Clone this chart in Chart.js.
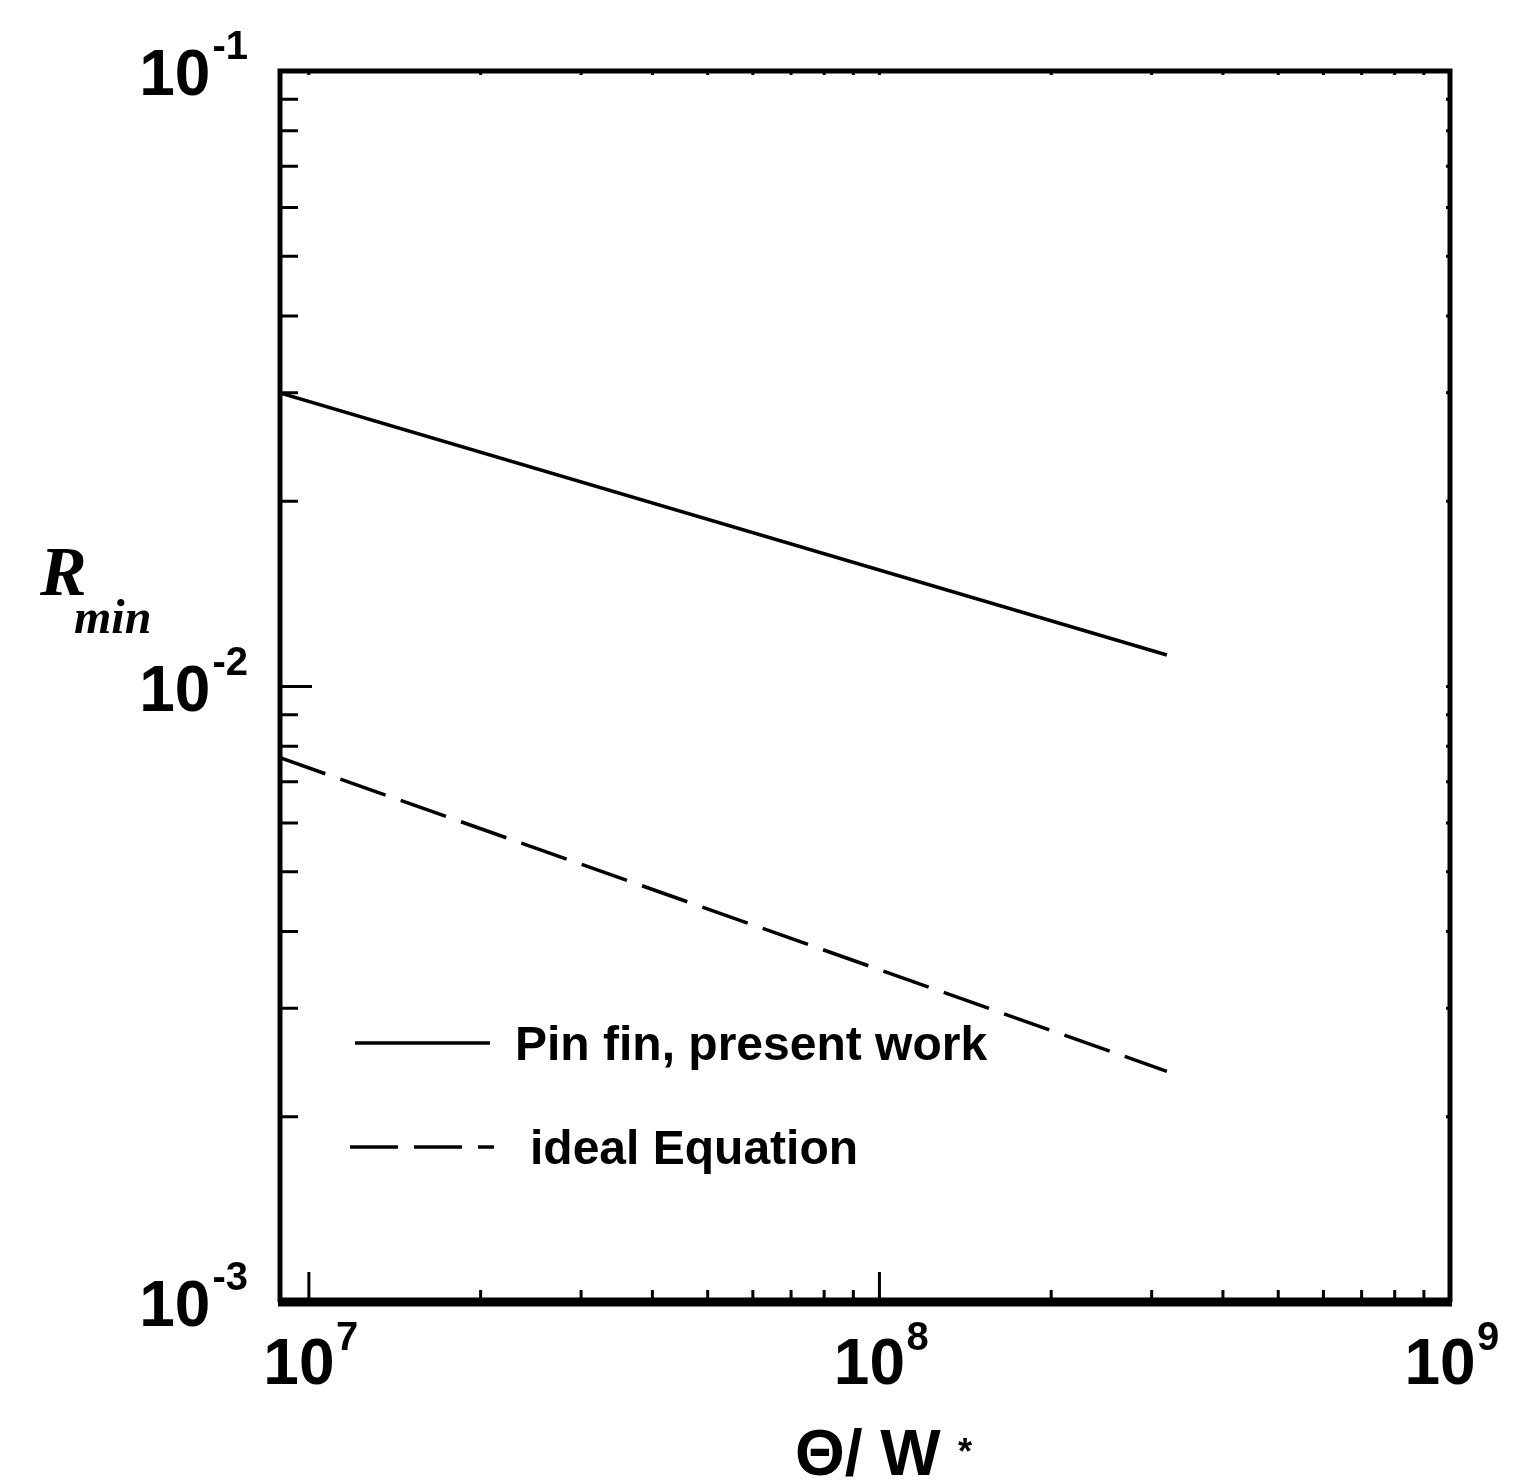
<!DOCTYPE html>
<html>
<head>
<meta charset="utf-8">
<title>R_min vs Theta/W*</title>
<script src="https://cdn.jsdelivr.net/npm/chart.js@4.4.1/dist/chart.umd.min.js"></script>
<style>
  body { margin: 0; background: #fff; }
  #wrap { width: 1513px; height: 1481px; }
</style>
</head>
<body>
<div id="wrap"><canvas id="chart" width="1513" height="1481"></canvas></div>
<script>
// data (log-log)
const pinFinX = [8.9e6, 3.19e8];
const pinFinY = [0.0300, 0.01125];
const idealX = [8.9e6, 3.19e8];
const idealY = [0.00766, 0.00237];

const seriesNames = ["Pin fin, present work", "ideal Equation"];

// axis ticks
const xMajorTicks = [1e7, 1e8, 1e9];
const xTickExps = ["7", "8", "9"];
const xMinorTicks = [2e7, 3e7, 4e7, 5e7, 6e7, 7e7, 8e7, 9e7, 2e8, 3e8, 4e8, 5e8, 6e8, 7e8, 8e8, 9e8];
const yMajorTicks = [1e-3, 1e-2, 1e-1];
const yTickExps = ["-3", "-2", "-1"];
const yMinorTicks = [0.002, 0.003, 0.004, 0.005, 0.006, 0.007, 0.008, 0.009, 0.02, 0.03, 0.04, 0.05, 0.06, 0.07, 0.08, 0.09];

const toPoints = (xs, ys) => xs.map((x, i) => ({ x: x, y: ys[i] }));

const sansBold = (px) => "bold " + px + "px 'Liberation Sans', Arial, sans-serif";
const serifBI = (px) => "italic bold " + px + "px 'Liberation Serif', 'Times New Roman', serif";

// ticks, frame, tick labels, titles and legend
const paperFrame = {
  id: "paperFrame",
  afterDatasetsDraw(chart) {
    const { ctx, chartArea: a, scales } = chart;
    const xs = scales.x, ys = scales.y;
    ctx.save();
    ctx.strokeStyle = "#000";
    ctx.fillStyle = "#000";
    ctx.lineCap = "butt";

    // y ticks (inward from left, small ones on right)
    ctx.lineWidth = 3;
    yMajorTicks.concat(yMinorTicks).forEach((v) => {
      const py = ys.getPixelForValue(v);
      const len = yMajorTicks.includes(v) ? 32 : 18;
      ctx.beginPath();
      ctx.moveTo(a.left, py); ctx.lineTo(a.left + len, py);
      ctx.moveTo(a.right, py); ctx.lineTo(a.right - 4, py);
      ctx.stroke();
    });
    // x ticks (up from bottom, small ones on top)
    xMajorTicks.concat(xMinorTicks).forEach((v) => {
      const px = xs.getPixelForValue(v);
      const len = xMajorTicks.includes(v) ? 30 : 12;
      ctx.beginPath();
      ctx.moveTo(px, a.bottom); ctx.lineTo(px, a.bottom - len);
      ctx.moveTo(px, a.top); ctx.lineTo(px, a.top + 4);
      ctx.stroke();
    });

    // frame
    ctx.lineWidth = 5;
    ctx.beginPath();
    ctx.moveTo(a.left, a.bottom);
    ctx.lineTo(a.left, a.top);
    ctx.lineTo(a.right, a.top);
    ctx.lineTo(a.right, a.bottom);
    ctx.stroke();
    ctx.lineWidth = 9;
    ctx.beginPath();
    ctx.moveTo(a.left - 2, a.bottom);
    ctx.lineTo(a.right + 2, a.bottom);
    ctx.stroke();

    // y tick labels: 10 with superscript exponent
    ctx.textBaseline = "alphabetic";
    yMajorTicks.forEach((v, i) => {
      const py = ys.getPixelForValue(v);
      ctx.font = sansBold(40);
      ctx.textAlign = "right";
      ctx.fillText(yTickExps[i], a.left - 32, py - 12);
      const supW = ctx.measureText(yTickExps[i]).width;
      ctx.font = sansBold(64);
      ctx.fillText("10", a.left - 34 - supW, py + 24);
    });
    // x tick labels
    xMajorTicks.forEach((v, i) => {
      const px = xs.getPixelForValue(v);
      ctx.font = sansBold(64);
      ctx.textAlign = "center";
      ctx.fillText("10", px - 10, a.bottom + 82);
      ctx.font = sansBold(40);
      ctx.textAlign = "left";
      ctx.fillText(xTickExps[i], px + 27, a.bottom + 48);
    });

    // axis titles
    ctx.textAlign = "left";
    ctx.font = serifBI(70);
    ctx.fillText("R", 40, 595);
    ctx.font = serifBI(48);
    ctx.fillText("min", 74, 633);
    ctx.font = sansBold(64);
    ctx.fillText("\u0398/ W", 795, 1475);
    ctx.font = sansBold(36);
    ctx.fillText("*", 958, 1464);

    // legend
    const rows = [
      { y: 1043, x0: 355, x1: 490, tx: 515 },
      { y: 1147, x0: 350, x1: 494, tx: 530 }
    ];
    chart.data.datasets.forEach((ds, i) => {
      const r = rows[i];
      ctx.lineWidth = ds.borderWidth;
      ctx.setLineDash(ds.borderDash || []);
      ctx.beginPath();
      ctx.moveTo(r.x0, r.y); ctx.lineTo(r.x1, r.y);
      ctx.stroke();
      ctx.setLineDash([]);
      ctx.font = sansBold(48);
      ctx.textAlign = "left";
      ctx.fillText(ds.label, r.tx, r.y + 17);
    });
    ctx.restore();
  }
};

document.addEventListener("DOMContentLoaded", () => {
  const ctx = document.getElementById("chart").getContext("2d");
  new Chart(ctx, {
    type: "line",
    data: {
      datasets: [
        {
          label: seriesNames[0],
          data: toPoints(pinFinX, pinFinY),
          borderColor: "#000",
          borderWidth: 3.5,
          pointRadius: 0,
          fill: false
        },
        {
          label: seriesNames[1],
          data: toPoints(idealX, idealY),
          borderColor: "#000",
          borderWidth: 3.5,
          borderDash: [48, 16],
          pointRadius: 0,
          fill: false
        }
      ]
    },
    options: {
      responsive: false,
      animation: false,
      layout: { padding: { left: 280, right: 63, top: 71, bottom: 179 } },
      scales: {
        x: { type: "logarithmic", min: 8.9e6, max: 1e9, display: false },
        y: { type: "logarithmic", min: 1e-3, max: 1e-1, display: false }
      },
      plugins: {
        legend: { display: false },
        tooltip: { enabled: false }
      }
    },
    plugins: [paperFrame]
  });
});
</script>
</body>
</html>
